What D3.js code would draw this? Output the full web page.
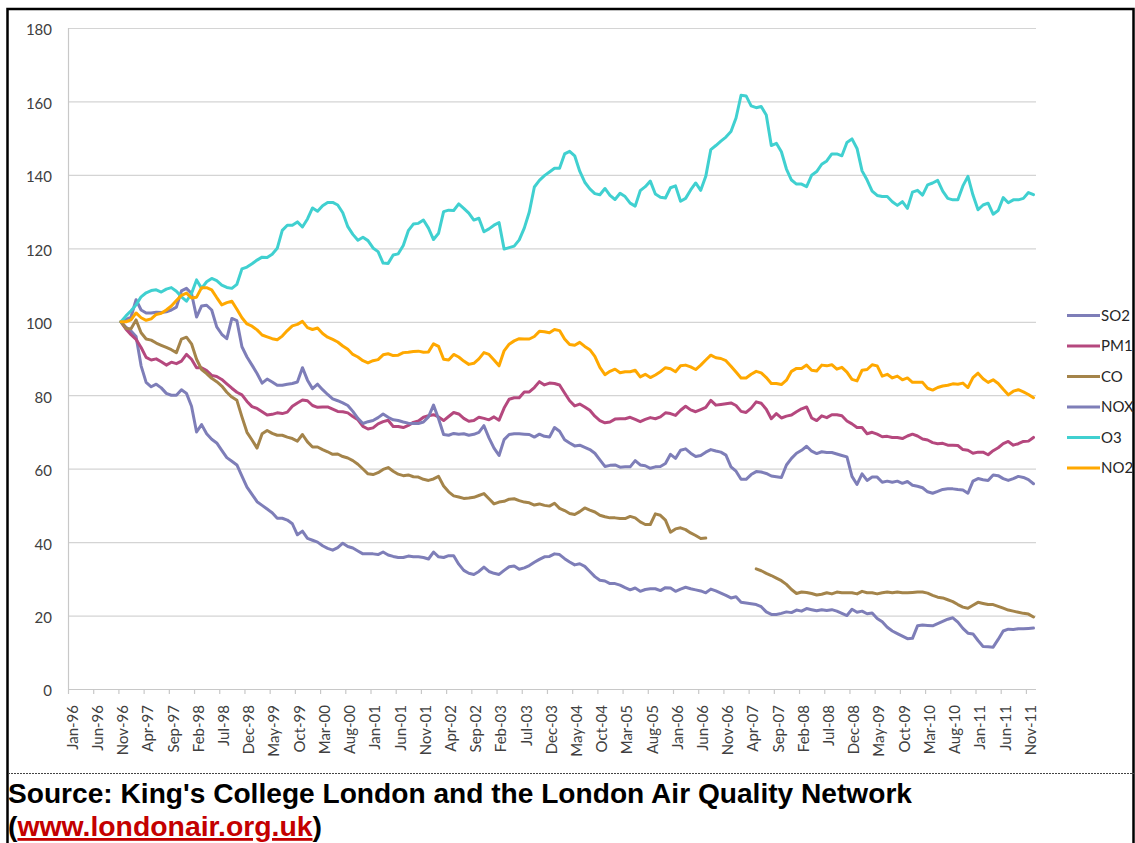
<!DOCTYPE html>
<html lang="en">
<head>
<meta charset="utf-8">
<title>London air pollution index</title>
<script src="https://cdn.jsdelivr.net/npm/d3@7"></script>
<style>
  body { margin: 0; background: #fff; }
  .axis text, .legend text { font-family: Lato, "Open Sans", sans-serif; font-size: 15px; fill: #404040; }
  .source { font-family: "Liberation Sans", Arial, sans-serif; font-weight: bold; font-size: 28px; }
</style>
</head>
<body>
<script>
var w = 1135, h = 843;

// the axis runs Jan-96 .. Dec-11, the series Nov-96 .. Dec-11 (monthly)
var axisMonths = d3.timeMonth.range(new Date(1996, 0, 1), new Date(2012, 0, 1));
var dataMonths = d3.timeMonth.range(new Date(1996, 10, 1), new Date(2012, 0, 1));

var tickLabels = ["Jan-96","Jun-96","Nov-96","Apr-97","Sep-97","Feb-98","Jul-98","Dec-98","May-99","Oct-99",
  "Mar-00","Aug-00","Jan-01","Jun-01","Nov-01","Apr-02","Sep-02","Feb-03","Jul-03","Dec-03",
  "May-04","Oct-04","Mar-05","Aug-05","Jan-06","Jun-06","Nov-06","Apr-07","Sep-07","Feb-08",
  "Jul-08","Dec-08","May-09","Oct-09","Mar-10","Aug-10","Jan-11","Jun-11","Nov-11"];

var yTicks = [0, 20, 40, 60, 80, 100, 120, 140, 160, 180];

var seriesNames = ["SO2", "PM1", "CO", "NOX", "O3", "NO2"];
var seriesColors = ["#7e7eb8", "#b5487e", "#a4844a", "#7e7eb8", "#40d0d0", "#ffa800"];

var so2 = [100,98.5,97.5,96,88,83.5,82.3,83,82,80.5,
  80,80,81.5,80.5,77,70,72,69.5,68,67,
  65,63,62,61,58,55,53,51,50,49,
  48,46.5,46.5,46,45,42,43,41,40.5,40,
  39,38.3,37.8,38.5,39.7,38.8,38.4,37.6,36.8,36.8,
  36.8,36.6,37.3,36.5,36.1,35.8,35.8,36.2,36,36,
  35.8,35.4,37.3,36,35.8,36.3,36.3,34,32.3,31.5,
  31.2,32,33.2,32,31.5,31.2,32.3,33.3,33.5,32.6,
  33,33.6,34.5,35.3,36,36.1,36.8,36.6,35.5,34.6,
  33.8,34.1,33.4,32,30.6,29.6,29.4,28.7,28.7,28.3,
  27.6,27,27.5,26.6,27.1,27.3,27.3,26.8,27.6,27.5,
  26.6,27.2,27.7,27.3,27,26.7,26.2,27.2,26.7,26.1,
  25.5,24.8,25.1,23.6,23.4,23.2,23,22.4,21,20.3,
  20.3,20.6,21,20.8,21.5,21.2,21.9,21.6,21.3,21.6,
  21.4,21.6,21.2,20.6,20,21.7,20.9,21.2,20.5,20.7,
  19.2,18.3,16.8,15.8,15.1,14.4,13.7,13.8,17.2,17.4,
  17.3,17.2,17.8,18.4,19,19.4,18.2,16.5,15.2,15,
  13.2,11.6,11.5,11.4,13.5,15.8,16.3,16.2,16.4,16.4,
  16.5,16.6];

var pm1 = [100,98,96.5,95.2,93,90.3,89.6,89.9,89.1,88.2,
  89,88.6,89.3,91.1,89.8,87.5,87.5,86.7,85.4,85.1,
  84.3,83.1,81.9,80.8,80.1,78.3,76.9,76.4,75.5,74.6,
  74.8,75.2,75,75.4,77,77.9,78.7,78.5,77.2,76.7,
  76.8,76.8,76.2,75.6,75.5,75.2,74.2,73.3,71.5,70.8,
  71.1,72.2,72.8,73.2,71.5,71.5,71.2,71.8,72.6,73,
  74,74.4,74.7,74.1,73.1,74.2,75.3,74.9,73.7,72.9,
  73.1,74,73.7,73.3,74.1,73.2,76.5,78.9,79.3,79.3,
  80.9,80.9,82.1,83.7,82.8,83.3,83.2,82.8,80.6,78.5,
  77.1,77.6,76.8,75.9,74.3,73.1,72.5,72.7,73.5,73.6,
  73.6,74,73.4,72.8,73.4,73.9,73.6,74.1,75.2,75,
  74.5,75.9,77,76,75.5,76.1,76.7,78.6,77.3,77.5,
  77.7,77.9,77.2,75.6,75.3,76.5,78.2,77.8,76.2,73.6,
  75,73.8,74.3,74.6,75.5,76.3,76.8,73.8,73.1,74.4,
  73.9,74.7,74.7,74.4,73,72.2,71.2,71.2,69.5,69.9,
  69.4,68.7,68.8,68.5,68.5,68.2,68.9,69.4,68.9,68.1,
  67.8,67.1,66.8,66.9,66.4,66.35,66.3,65.2,65,64.2,
  64.5,64.5,63.8,64.9,65.7,66.8,67.4,66.4,66.8,67.4,
  67.5,68.5];

var co = [100,98.2,98.1,100.5,97,95.3,95,94.2,93.6,93,
  92.4,91.6,95.3,95.8,94,89.8,87,85.9,84.6,83.7,
  82.5,80.8,79.5,78.6,74.1,69.9,67.8,65.6,69.5,70.4,
  69.6,69.1,69.1,68.6,68.2,67.5,69.3,67.3,65.9,65.9,
  65.2,64.6,63.9,64,63.3,62.9,62.2,61.2,59.9,58.6,
  58.4,58.9,59.8,60.3,59.3,58.5,58.1,58.3,57.8,57.7,
  57.1,56.8,57.2,57.9,55.3,53.7,52.6,52.3,51.9,52,
  52.2,52.7,53.2,51.8,50.4,50.9,51.1,51.7,51.8,51.3,
  50.9,50.7,50.1,50.4,50,49.8,50.6,49.2,48.6,47.8,
  47.5,48.3,49.3,48.7,48.2,47.3,46.9,46.6,46.6,46.4,
  46.4,47,46.6,45.5,44.8,44.8,47.7,47.3,46,42.7,
  43.6,43.9,43.4,42.5,41.8,41,41.1,null,null,null,
  null,null,null,null,null,null,32.7,32.2,31.5,30.9,
  30.2,29.5,28.5,27.1,26,26.4,26.3,26,25.6,25.8,
  26.2,25.9,26.4,26.2,26.2,26.2,25.9,26.6,26.2,26.2,
  25.9,26.2,26.4,26.2,26.4,26.2,26.2,26.3,26.4,26.4,
  26.1,25.5,25,24.8,24.3,23.8,23,22.3,22,22.8,
  23.6,23.3,23,23,22.5,22,21.5,21.2,20.9,20.6,
  20.4,19.6];

var nox = [100,100.6,101.3,106,103.2,102.4,102.4,102.6,102.5,102.7,
  103.2,104,108.4,109.1,107.7,101.3,104.3,104.5,103.2,98.6,
  96.6,95.4,100.9,100.3,93.2,90.4,88.2,85.9,83.3,84.4,
  83.6,82.7,82.7,83,83.2,83.6,87.5,84.1,81.8,83,
  81.5,80.2,79,78.5,77.9,77.2,75.6,73.7,72.3,72.8,
  73.1,73.9,74.9,74,73.3,73.1,72.7,72.4,72.3,72.3,
  72.7,74.1,77.3,73.6,69.3,69.1,69.6,69.35,69.5,69.1,
  69.35,69.9,71.7,68.4,65.6,63.6,67.9,69.3,69.5,69.5,
  69.4,69.3,68.6,69.4,68.8,68.6,71.2,70.2,67.9,67,
  66.2,66.4,65.8,65.2,64.2,62.4,60.6,60.9,61,60.4,
  60.5,60.5,62.2,61,60.8,60.1,60.5,60.6,61.4,63.9,
  62.8,65,65.4,64.2,63.3,63.6,64.5,65.2,64.8,64.5,
  63.7,60.5,59.3,57.1,57.1,58.4,59.2,59.1,58.7,58,
  57.8,57.6,61,62.8,64.2,65,66.1,64.75,64.1,64.6,
  64.4,64.4,64,63.6,63.2,57.9,55.7,58.6,56.8,57.7,
  57.7,56.3,56.6,56.3,56.6,56,56.5,55.5,55.2,54.8,
  53.7,53.3,53.8,54.35,54.5,54.5,54.3,54.2,53.3,56.6,
  57.3,57,56.8,58.3,58.1,57.3,56.8,57.3,57.9,57.6,
  57,55.9];

var o3 = [100,101.6,103,104.6,106.8,107.9,108.5,108.7,108.1,108.9,
  109.3,108.3,106.8,105.6,107.7,111.4,109.1,110.9,111.8,111.2,
  110,109.35,109.1,110.2,114.4,114.9,115.8,116.8,117.6,117.5,
  118.4,120,124.9,126.3,126.3,127.2,125.8,128,131,130.1,
  131.6,132.5,132.5,131.8,129.7,125.9,123.8,122.2,123,122.1,
  120.1,119.1,116,115.9,118.2,118.5,120.8,124.8,126.6,126.8,
  127.7,125.5,122.4,124.1,130,130.4,130.3,132.1,130.9,129.6,
  127.7,128.2,124.5,125.3,126.3,127,119.8,120.2,120.6,122.3,
  125.5,129.9,136.7,138.5,139.8,140.8,141.8,141.8,145.7,146.4,
  145.2,141,138,136.2,134.9,134.6,136.3,134.4,133.3,135,
  134.1,132.3,131.5,135.7,136.8,138.3,134.8,133.9,133.7,136.5,
  137,132.8,133.6,135.9,137.8,135.8,139.6,146.9,148,149.2,
  150.3,151.8,155.5,161.7,161.5,158.8,158.3,158.6,156.3,148,
  148.6,146.3,141.6,138.6,137.5,137.5,136.8,139.9,140.9,142.9,
  143.8,145.7,145.7,145.2,148.8,149.8,147.2,141.1,138.6,135.6,
  134.4,134.1,134.1,132.7,131.7,132.7,130.9,135.3,135.8,134.5,
  137.3,137.8,138.5,135.6,133.6,133.2,133.2,137,139.6,134.5,
  130.5,131.8,132.3,129.3,130.3,133.8,132.4,133.2,133.2,133.6,
  135.2,134.6];

var no2 = [100,100,100.5,102.4,101.1,100.4,100.8,102,102.3,103.2,
  104.3,105.8,107.2,107.8,106.5,106.7,109.3,109.3,108.7,106.6,
  104.6,105.2,105.6,103.4,101.1,99.4,98.8,97.8,96.4,95.9,
  95.4,95.1,96.1,97.6,98.9,99.3,100.1,98.4,97.9,98.3,
  96.8,95.8,95.2,94.5,93.4,92.5,91.1,90.4,89.4,88.8,
  89.4,89.7,91,91.3,90.8,90.9,91.6,91.7,91.9,92,
  91.7,91.8,94,93.3,89.8,89.6,91.1,90.4,89.3,88.4,
  88.7,89.9,91.6,91.1,89.6,88,92.1,93.9,94.8,95.4,
  95.3,95.3,96,97.4,97.3,97,97.9,97.6,95.3,93.8,
  93.6,94.4,93.3,92.4,90.6,87.6,85.6,86.5,87.1,86.1,
  86.4,86.4,86.8,85,85.7,84.8,85.5,86.4,87.5,87.2,
  86.4,88,88.2,87.7,87,88.2,89.6,90.9,90.2,90,
  89.4,87.9,86.3,84.7,84.7,85.7,86.5,86.1,84.8,83.2,
  83.2,82.9,84.1,86.5,87.3,87.3,88.2,86.8,86.6,88.2,
  88,88.3,87.1,87.6,86.3,84.3,83.9,86.8,87,88.3,
  88,85.2,85.7,84.7,85.2,84.2,84.7,83.5,83.5,83.5,
  81.9,81.4,82.1,82.5,82.7,83.1,83,83.3,82.1,84.8,
  86,84.5,83.5,84.2,83.2,81.6,80.1,81.1,81.5,80.9,
  80.2,79.3];

var seriesValues = [so2, pm1, co, nox, o3, no2];

var svg = d3.select("body").append("svg")
  .attr("width", w)
  .attr("height", h);

// outer frame and separator above the source note
svg.append("rect")
  .attr("x", 7.5).attr("y", 9)
  .attr("width", 1126).attr("height", 860)
  .attr("fill", "none").attr("stroke", "#000").attr("stroke-width", 2.5);

svg.append("line")
  .attr("x1", 8).attr("x2", 1135).attr("y1", 773.5).attr("y2", 773.5)
  .attr("stroke", "#444").attr("stroke-width", 1.2).attr("stroke-dasharray", "2,1");

var x = d3.scaleBand()
  .domain(axisMonths)
  .range([68, 1036])
  .padding(0);
var bw = x.bandwidth();

var y = d3.scaleLinear()
  .domain([0, 180])
  .range([689, 28]);

// gridlines
svg.append("g").selectAll("line")
  .data(yTicks.filter(function(d) { return d > 0; }))
  .enter().append("line")
  .attr("x1", 68).attr("x2", 1036)
  .attr("y1", function(d) { return y(d) + 0.5; })
  .attr("y2", function(d) { return y(d) + 0.5; })
  .attr("stroke", "#d4d4d4").attr("stroke-width", 1.2);

// y axis
var yAxis = svg.append("g").attr("class", "axis");
yAxis.append("line")
  .attr("x1", 68.5).attr("x2", 68.5).attr("y1", y(180)).attr("y2", y(0))
  .attr("stroke", "#c8c8c8").attr("stroke-width", 1.2);
yAxis.selectAll("text")
  .data(yTicks)
  .enter().append("text")
  .attr("x", 52)
  .attr("y", function(d) { return y(d) + 2; })
  .attr("dy", "0.36em")
  .attr("text-anchor", "end")
  .text(function(d) { return d; });

// x axis
var tickMonths = axisMonths.filter(function(d, i) { return i % 5 === 0; });
var xAxis = svg.append("g").attr("class", "axis");
xAxis.append("line")
  .attr("x1", 68).attr("x2", 1036).attr("y1", y(0) + 0.5).attr("y2", y(0) + 0.5)
  .attr("stroke", "#c8c8c8").attr("stroke-width", 1.2);
xAxis.selectAll("line.tick")
  .data(tickMonths)
  .enter().append("line")
  .attr("class", "tick")
  .attr("x1", function(d) { return x(d) + 0.5; })
  .attr("x2", function(d) { return x(d) + 0.5; })
  .attr("y1", y(0)).attr("y2", y(0) + 5)
  .attr("stroke", "#c8c8c8").attr("stroke-width", 1.2);
xAxis.selectAll("text")
  .data(tickMonths)
  .enter().append("text")
  .attr("transform", function(d) { return "translate(" + (x(d) + 4.4) + "," + 705 + ") rotate(-90)"; })
  .attr("dy", "0.36em")
  .attr("text-anchor", "end")
  .text(function(d, i) { return tickLabels[i]; });

// series lines
var line = d3.line()
  .defined(function(d) { return d != null; })
  .x(function(d, i) { return x(dataMonths[i]) + bw / 2; })
  .y(function(d) { return y(d); });

svg.append("g").selectAll("path")
  .data(seriesValues)
  .enter().append("path")
  .attr("d", line)
  .attr("fill", "none")
  .attr("stroke", function(d, i) { return seriesColors[i]; })
  .attr("stroke-width", 3)
  .attr("stroke-linejoin", "round")
  .attr("stroke-linecap", "round");

// legend
var legend = svg.append("g").attr("class", "legend")
  .selectAll("g")
  .data(seriesNames)
  .enter().append("g")
  .attr("transform", function(d, i) { return "translate(1067," + (315.5 + i * 30.5) + ")"; });
legend.append("line")
  .attr("x1", 0).attr("x2", 33)
  .attr("stroke", function(d, i) { return seriesColors[i]; })
  .attr("stroke-width", 3);
legend.append("text")
  .attr("x", 34)
  .attr("dy", "0.36em")
  .style("fill", "#262626")
  .text(function(d) { return d; });

// source note
svg.append("text")
  .attr("class", "source")
  .attr("x", 8).attr("y", 803)
  .attr("textLength", 904)
  .attr("lengthAdjust", "spacingAndGlyphs")
  .text("Source: King's College London and the London Air Quality Network");

var src2 = svg.append("text")
  .attr("class", "source")
  .attr("x", 8).attr("y", 836)
  .attr("textLength", 314)
  .attr("lengthAdjust", "spacingAndGlyphs");
src2.append("tspan").text("(");
src2.append("tspan")
  .attr("fill", "#c40000")
  .attr("text-decoration", "underline")
  .text("www.londonair.org.uk");
src2.append("tspan").text(")");
</script>
</body>
</html>
